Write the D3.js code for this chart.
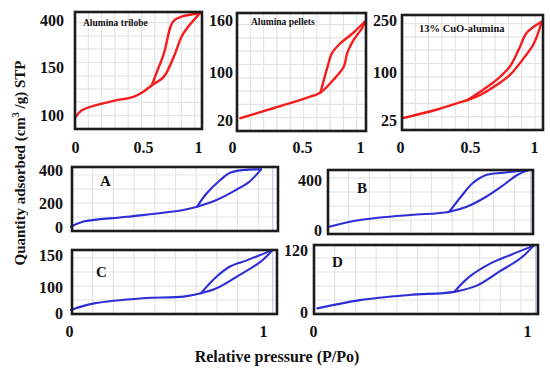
<!DOCTYPE html>
<html>
<head>
<meta charset="utf-8">
<script src="https://cdn.jsdelivr.net/npm/d3@7"></script>
<style>
  body { margin: 0; background: #fff; }
  text { font-family: "Liberation Serif", "Times New Roman", serif; font-weight: bold; fill: #111; }
</style>
</head>
<body>
<svg id="chart" width="550" height="374"></svg>
<script>
"use strict";

// isotherms: [P/Po, quantity adsorbed]
var trilobeAds = [[0,97],[0.05,105],[0.26,114],[0.43,119],[0.5,124],[0.58,131],[0.69,140],[0.78,205],[0.85,311],[0.9,356],[0.99,418],[1.02,436]];
var trilobeDes = [[0.58,131],[0.62,143],[0.69,223],[0.75,364],[0.78,396],[0.85,418],[1.02,436]];

var pelletsAds = [[0.06,23],[0.3,40],[0.54,57],[0.66,66],[0.77,87],[0.86,106],[0.89,122],[0.94,136],[1.02,151],[1.04,158]];
var pelletsDes = [[0.66,66],[0.72,106],[0.76,122],[0.83,133],[0.94,145],[1.04,158]];

var cuoAds = [[0.02,28],[0.26,41],[0.45,54],[0.48,56],[0.58,64],[0.71,80],[0.81,95],[0.92,140],[1.0,183],[1.06,245]];
var cuoDes = [[0.48,56],[0.6,72],[0.71,88],[0.81,115],[0.88,164],[0.94,212],[1.0,231],[1.06,245]];

var aAds = [[0.01,3],[0.07,44],[0.3,85],[0.59,142],[0.66,169],[0.76,218],[0.86,279],[0.93,329],[0.99,404]];
var aDes = [[0.66,169],[0.71,259],[0.78,339],[0.83,383],[0.9,400],[0.99,404]];

var bAds = [[0,26],[0.16,80],[0.42,120],[0.56,134],[0.62,146],[0.71,186],[0.81,266],[0.9,360],[0.97,440],[1.03,480]];
var bDes = [[0.62,146],[0.68,266],[0.74,374],[0.81,440],[0.9,458],[1.03,480]];

var cAds = [[0.01,12],[0.13,37],[0.38,57],[0.59,63],[0.68,76],[0.76,95],[0.88,119],[0.99,140],[1.05,158]];
var cDes = [[0.68,76],[0.76,116],[0.83,132],[0.92,142],[1.05,158]];

var dAds = [[0.02,7],[0.22,23],[0.45,33],[0.66,39],[0.77,52],[0.87,78],[0.97,104],[1.03,128]];
var dDes = [[0.66,39],[0.73,68],[0.83,94],[0.92,110],[1.03,128]];

// tick labels
var topXTicks = [0, 0.5, 1];
var bottomXTicks = [0, 1];
var trilobeYTicks = [100, 150, 400];
var pelletsYTicks = [20, 100, 160];
var cuoYTicks = [25, 100, 250];
var aYTicks = [0, 200, 400];
var bYTicks = [0, 400];
var cYTicks = [0, 100, 150];
var dYTicks = [0, 120];

var titles = ["Alumina trilobe", "Alumina pellets", "13% CuO-alumina", "A", "B", "C", "D"];

var RED = "#f41c1c", BLUE = "#2e2ed8";

var svg = d3.select("#chart");

// box: [left, right, top, bottom]
var panels = [
  {ads: trilobeAds, des: trilobeDes, xT: topXTicks, xR: [75,143,198], yT: trilobeYTicks, yR: [115,67,20],
   box: [75,202,12,129], grid: [13.3,13.3], color: RED, yPad: 11, xPad: 13, title: titles[0], tx: 83, ty: 26, ts: 9.5},
  {ads: pelletsAds, des: pelletsDes, xT: topXTicks, xR: [232,302,360], yT: pelletsYTicks, yR: [120,72,20],
   box: [237,366,13,131], grid: [13.3,13.3], color: RED, yPad: 4, xPad: 11, title: titles[1], tx: 251, ty: 25, ts: 9.5},
  {ads: cuoAds, des: cuoDes, xT: topXTicks, xR: [400,470,534], yT: cuoYTicks, yR: [120,72,20],
   box: [402,543,15,130], grid: [13.3,13.3], color: RED, yPad: 5, xPad: 12, title: titles[2], tx: 419, ty: 32, ts: 10.5},
  {ads: aAds, des: aDes, xT: bottomXTicks, xR: [69,263], yT: aYTicks, yR: [227,203,170],
   box: [72,278,167,231], grid: [20.7,14], color: BLUE, yPad: 9, xPad: null, title: titles[3], tx: 100, ty: 186, ts: 15, edge: 1.05},
  {ads: bAds, des: bDes, xT: bottomXTicks, xR: [329,523], yT: bYTicks, yR: [230,180],
   box: [328,533,170,234], grid: [20.7,14], color: BLUE, yPad: 6, xPad: null, title: titles[4], tx: 357, ty: 193, ts: 15, edge: 1.04},
  {ads: cAds, des: cDes, xT: bottomXTicks, xR: [69,263], yT: cYTicks, yR: [313,287,255],
   box: [72,277,250,314], grid: [20.7,14], color: BLUE, yPad: 9, xPad: 12, title: titles[5], tx: 96, ty: 277, ts: 15, edge: 1.05},
  {ads: dAds, des: dDes, xT: bottomXTicks, xR: [313,527], yT: dYTicks, yR: [312,250],
   box: [314,538,245,314], grid: [20.7,14], color: BLUE, yPad: 6, xPad: 12, title: titles[6], tx: 332, ty: 267, ts: 15, edge: 1.04}
];

function drawPanel(p) {
  var g = svg.append("g");
  var x = d3.scaleLinear().domain(p.xT).range(p.xR);
  var y = d3.scaleLinear().domain(p.yT).range(p.yR);
  var b = p.box;

  // light grid
  var gx = d3.range(b[0] + p.grid[0], b[1] - 3, p.grid[0]);
  var gy = d3.range(b[3] - p.grid[1], b[2] + 3, -p.grid[1]);
  g.selectAll(".gx").data(gx).enter().append("line")
    .attr("x1", d => d).attr("x2", d => d).attr("y1", b[2]).attr("y2", b[3])
    .attr("stroke", "#e4e4e4").attr("stroke-width", 1.2);
  g.selectAll(".gy").data(gy).enter().append("line")
    .attr("y1", d => d).attr("y2", d => d).attr("x1", b[0]).attr("x2", b[1])
    .attr("stroke", "#e4e4e4").attr("stroke-width", 1.2);

  if (p.edge) {
    g.append("line")
      .attr("x1", x(p.edge)).attr("x2", x(p.edge)).attr("y1", b[2]).attr("y2", b[3])
      .attr("stroke", "#c8c8f4").attr("stroke-width", 1.2);
  }

  // isotherm branches
  var line = d3.line()
    .x(d => x(d[0]))
    .y(d => y(d[1]))
    .curve(d3.curveCatmullRom.alpha(0.5));

  [p.ads, p.des].forEach(function(s) {
    g.append("path")
      .attr("d", line(s))
      .attr("fill", "none")
      .attr("stroke", p.color)
      .attr("stroke-width", p.color === RED ? 2.4 : 2.1)
      .attr("stroke-linejoin", "round")
      .attr("stroke-linecap", "round");
  });

  // frame
  g.append("rect")
    .attr("x", b[0]).attr("y", b[2])
    .attr("width", b[1] - b[0]).attr("height", b[3] - b[2])
    .attr("fill", "none").attr("stroke", "#1c1c1c").attr("stroke-width", 2.6);

  // y axis labels
  var ya = g.append("g")
    .attr("transform", "translate(" + b[0] + ",0)")
    .call(d3.axisLeft(y).tickValues(p.yT).tickSize(0).tickPadding(p.yPad).tickFormat(String));
  ya.select(".domain").remove();
  ya.selectAll("text").attr("font-size", 16).attr("font-family", "Liberation Serif, serif").attr("font-weight", "bold").attr("fill", "#111");

  // x axis labels
  if (p.xPad !== null) {
    var xa = g.append("g")
      .attr("transform", "translate(0," + b[3] + ")")
      .call(d3.axisBottom(x).tickValues(p.xT).tickSize(0).tickPadding(p.xPad).tickFormat(String));
    xa.select(".domain").remove();
    xa.selectAll("text").attr("font-size", 16).attr("font-family", "Liberation Serif, serif").attr("font-weight", "bold").attr("fill", "#111");
  }

  // panel title
  g.append("text")
    .attr("x", p.tx).attr("y", p.ty)
    .attr("font-size", p.ts)
    .text(p.title);
}

panels.forEach(drawPanel);

// axis titles
var yt = svg.append("text")
  .attr("transform", "translate(25,163) rotate(-90)")
  .attr("text-anchor", "middle")
  .attr("font-size", 15);
yt.append("tspan").text("Quantity adsorbed (cm");
yt.append("tspan").attr("dy", -6).attr("font-size", 10).text("3");
yt.append("tspan").attr("dy", 6).text(" /g) STP");

svg.append("text")
  .attr("x", 277).attr("y", 362)
  .attr("text-anchor", "middle")
  .attr("font-size", 16)
  .text("Relative pressure (P/Po)");
</script>
</body>
</html>
